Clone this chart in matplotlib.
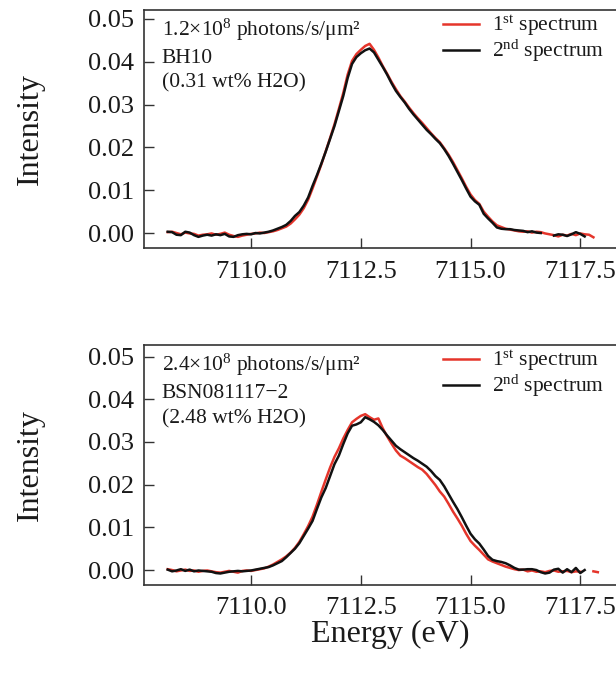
import numpy as np
import matplotlib
matplotlib.use("Agg")
import matplotlib.pyplot as plt
from matplotlib.ticker import FixedLocator, FormatStrFormatter

plt.rcParams['font.family'] = ['Liberation Serif', 'DejaVu Serif']
plt.rcParams['mathtext.fontset'] = 'custom'
plt.rcParams['mathtext.rm'] = 'Liberation Serif'
plt.rcParams['mathtext.it'] = 'Liberation Serif:italic'

energy = [7108.1, 7108.2, 7108.3, 7108.4, 7108.5, 7108.6, 7108.7, 7108.8, 7108.9, 7109.0,
          7109.1, 7109.2, 7109.3, 7109.4, 7109.5, 7109.6, 7109.7, 7109.8, 7109.9, 7110.0,
          7110.1, 7110.2, 7110.3, 7110.4, 7110.5, 7110.6, 7110.7, 7110.8, 7110.9, 7111.0,
          7111.1, 7111.2, 7111.3, 7111.4, 7111.5, 7111.6, 7111.7, 7111.8, 7111.9, 7112.0,
          7112.1, 7112.2, 7112.3, 7112.4, 7112.5, 7112.6, 7112.7, 7112.8, 7112.9, 7113.0,
          7113.1, 7113.2, 7113.3, 7113.4, 7113.5, 7113.6, 7113.7, 7113.8, 7113.9, 7114.0,
          7114.1, 7114.2, 7114.3, 7114.4, 7114.5, 7114.6, 7114.7, 7114.8, 7114.9, 7115.0,
          7115.1, 7115.2, 7115.3, 7115.4, 7115.5, 7115.6, 7115.7, 7115.8, 7115.9, 7116.0,
          7116.1, 7116.2, 7116.3, 7116.4, 7116.5, 7116.6, 7116.7, 7116.8, 7116.9, 7117.0,
          7117.1, 7117.2, 7117.3, 7117.4, 7117.5, 7117.6, 7117.7, 7117.8, 7117.9]

nan = float('nan')

# Panel 1: BH10, 1.2e8 photons/s/um2
top_first = [0.0002, 0.0003, 0.0000, -0.0003, 0.0001, -0.0001, -0.0002, -0.0006, -0.0004, -0.0003,
             -0.0001, -0.0004, -0.0002, 0.0001, -0.0004, -0.0007, -0.0009, -0.0006, -0.0004, -0.0002,
             -0.0001, 0.0001, 0.0000, 0.0002, 0.0004, 0.0007, 0.0011, 0.0015, 0.0022, 0.0032,
             0.0043, 0.0058, 0.0078, 0.0104, 0.0132, 0.0160, 0.0191, 0.0222, 0.0254, 0.0290,
             0.0327, 0.0370, 0.0402, 0.0418, 0.0428, 0.0437, 0.0442, 0.0428, 0.0410, 0.0390,
             0.0372, 0.0353, 0.0336, 0.0320, 0.0307, 0.0293, 0.0280, 0.0268, 0.0257, 0.0245,
             0.0233, 0.0222, 0.0212, 0.0198, 0.0183, 0.0166, 0.0147, 0.0128, 0.0108, 0.0090,
             0.0077, 0.0068, 0.0050, 0.0038, 0.0027, 0.0018, 0.0014, 0.0010, 0.0008, 0.0006,
             0.0004, 0.0003, 0.0004, 0.0001, 0.0003, 0.0002, -0.0001, -0.0003, -0.0005, -0.0008,
             -0.0004, -0.0006, -0.0002, -0.0005, -0.0001, -0.0003, -0.0004, -0.0010]

top_second = [0.0003, 0.0002, -0.0004, -0.0005, 0.0003, 0.0001, -0.0005, -0.0009, -0.0006, -0.0004,
              -0.0006, -0.0003, -0.0005, -0.0002, -0.0008, -0.0009, -0.0005, -0.0003, -0.0002, -0.0003,
              0.0000, -0.0001, 0.0001, 0.0003, 0.0006, 0.0010, 0.0014, 0.0019, 0.0028, 0.0040,
              0.0049, 0.0064, 0.0083, 0.0110, 0.0135, 0.0162, 0.0190, 0.0220, 0.0250, 0.0285,
              0.0320, 0.0362, 0.0395, 0.0411, 0.0420, 0.0427, 0.0431, 0.0422, 0.0405, 0.0388,
              0.0370, 0.0350, 0.0332, 0.0318, 0.0305, 0.0290, 0.0277, 0.0265, 0.0253, 0.0241,
              0.0231, 0.0220, 0.0210, 0.0196, 0.0180, 0.0162, 0.0143, 0.0124, 0.0104, 0.0085,
              0.0074, 0.0066, 0.0045, 0.0034, 0.0024, 0.0013, 0.0010, 0.0009, 0.0009, 0.0007,
              0.0006, 0.0005, 0.0002, 0.0004, 0.0001, 0.0000, nan, nan, -0.0006, -0.0003,
              -0.0004, -0.0007, -0.0003, 0.0002, -0.0002, -0.0008]

# Panel 2: BSN081117-2, 2.4e8 photons/s/um2
bot_first = [0.0002, 0.0000, -0.0003, -0.0001, 0.0001, -0.0002, -0.0001, -0.0004, -0.0002, -0.0001,
             -0.0003, -0.0005, -0.0006, -0.0004, -0.0002, -0.0004, -0.0006, -0.0002, -0.0001, -0.0002,
             0.0000, 0.0002, 0.0004, 0.0008, 0.0013, 0.0019, 0.0025, 0.0032, 0.0041, 0.0052,
             0.0066, 0.0084, 0.0103, 0.0125, 0.0153, 0.0183, 0.0212, 0.0240, 0.0265, 0.0285,
             0.0308, 0.0328, 0.0346, 0.0354, 0.0361, 0.0365, 0.0358, 0.0352, 0.0355, 0.0332,
             0.0313, 0.0296, 0.0280, 0.0268, 0.0262, 0.0255, 0.0248, 0.0241, 0.0235, 0.0225,
             0.0212, 0.0199, 0.0184, 0.0172, 0.0155, 0.0137, 0.0121, 0.0104, 0.0085, 0.0068,
             0.0057, 0.0047, 0.0036, 0.0025, 0.0020, 0.0016, 0.0012, 0.0008, 0.0005, 0.0002,
             0.0000, 0.0001, -0.0003, -0.0001, -0.0004, -0.0003, -0.0005, -0.0002, -0.0001, -0.0004,
             -0.0003, -0.0002, -0.0005, -0.0003, -0.0004, nan, nan, -0.0003, -0.0005]

bot_second = [0.0001, -0.0003, -0.0001, 0.0002, -0.0002, 0.0001, -0.0003, -0.0001, -0.0002, -0.0003,
              -0.0004, -0.0007, -0.0008, -0.0006, -0.0004, -0.0003, -0.0002, -0.0003, -0.0002, -0.0001,
              0.0001, 0.0003, 0.0005, 0.0007, 0.0011, 0.0016, 0.0021, 0.0030, 0.0040, 0.0050,
              0.0063, 0.0080, 0.0097, 0.0115, 0.0143, 0.0170, 0.0192, 0.0220, 0.0248, 0.0268,
              0.0295, 0.0320, 0.0338, 0.0341, 0.0346, 0.0358, 0.0353, 0.0347, 0.0339, 0.0328,
              0.0315, 0.0303, 0.0291, 0.0283, 0.0276, 0.0269, 0.0262, 0.0256, 0.0249, 0.0242,
              0.0232, 0.0220, 0.0211, 0.0196, 0.0178, 0.0160, 0.0143, 0.0124, 0.0104, 0.0085,
              0.0072, 0.0062, 0.0048, 0.0033, 0.0024, 0.0021, 0.0019, 0.0016, 0.0011, 0.0005,
              0.0001, 0.0001, 0.0002, 0.0002, 0.0000, -0.0005, -0.0008, -0.0006, 0.0001, 0.0003,
              -0.0006, 0.0002, -0.0005, 0.0005, -0.0007, 0.0000]

xticks = [7110.0, 7112.5, 7115.0, 7117.5]
yticks = [0.00, 0.01, 0.02, 0.03, 0.04, 0.05]

annotations = [
    "1.2×10$^{8}$ photons/s/μm²\nBH10\n(0.31 wt% H2O)",
    "2.4×10$^{8}$ photons/s/μm²\nBSN081117−2\n(2.48 wt% H2O)",
]
legend_labels = ["1$^{\\rm st}$ spectrum", "2$^{\\rm nd}$ spectrum"]

RED = '#e5352b'
BLACK = '#111111'
TXT = '#1a1a1a'
W, H = 616, 682

fig = plt.figure(figsize=(W / 100, H / 100), dpi=100)

panels = [
    (top_first, top_second, annotations[0], (144, 10, 618, 248), 0.0521),
    (bot_first, bot_second, annotations[1], (144, 345, 618, 585), 0.0527),
]

for first, second, note, (x0, y0, x1, y1), ytop in panels:
    ax = fig.add_axes([x0 / W, 1 - y1 / H, (x1 - x0) / W, (y1 - y0) / H])
    ax.plot(energy[:len(first)], first, color=RED, lw=1.8, label=legend_labels[0], zorder=2)
    ax.plot(energy[:len(second)], second, color=BLACK, lw=1.8, label=legend_labels[1], zorder=3)
    ax.set_xlim(7107.56, 7118.36)
    ax.set_ylim(-0.0035, ytop)
    ax.xaxis.set_major_locator(FixedLocator(xticks))
    ax.yaxis.set_major_locator(FixedLocator(yticks))
    ax.xaxis.set_major_formatter(FormatStrFormatter('%.1f'))
    ax.yaxis.set_major_formatter(FormatStrFormatter('%.2f'))
    ax.tick_params(direction='in', length=7, width=1.0, color='#333333',
                   labelsize=19, labelcolor=TXT, top=False, right=False)
    ax.tick_params(axis='x', pad=9)
    ax.tick_params(axis='y', pad=7)
    for s in ax.spines.values():
        s.set_linewidth(1.2)
        s.set_color('#333333')
    ax.set_ylabel('Intensity', fontsize=23, color=TXT, labelpad=31)
    ax.text(0.037, 0.972, note, transform=ax.transAxes, ha='left', va='top',
            fontsize=15.5, color=TXT, linespacing=1.42)
    leg = ax.legend(loc='upper right', bbox_to_anchor=(0.971, 0.985), frameon=False,
                    fontsize=15.5, handlelength=1.65, handletextpad=0.6,
                    labelspacing=0.0, borderaxespad=0, borderpad=0)
    for t in leg.get_texts():
        t.set_color(TXT)

fig.text(390 / W, 1 - 634 / H, 'Energy (eV)', ha='center', va='center', fontsize=23, color=TXT)

fig.savefig('out.png', dpi=100)
